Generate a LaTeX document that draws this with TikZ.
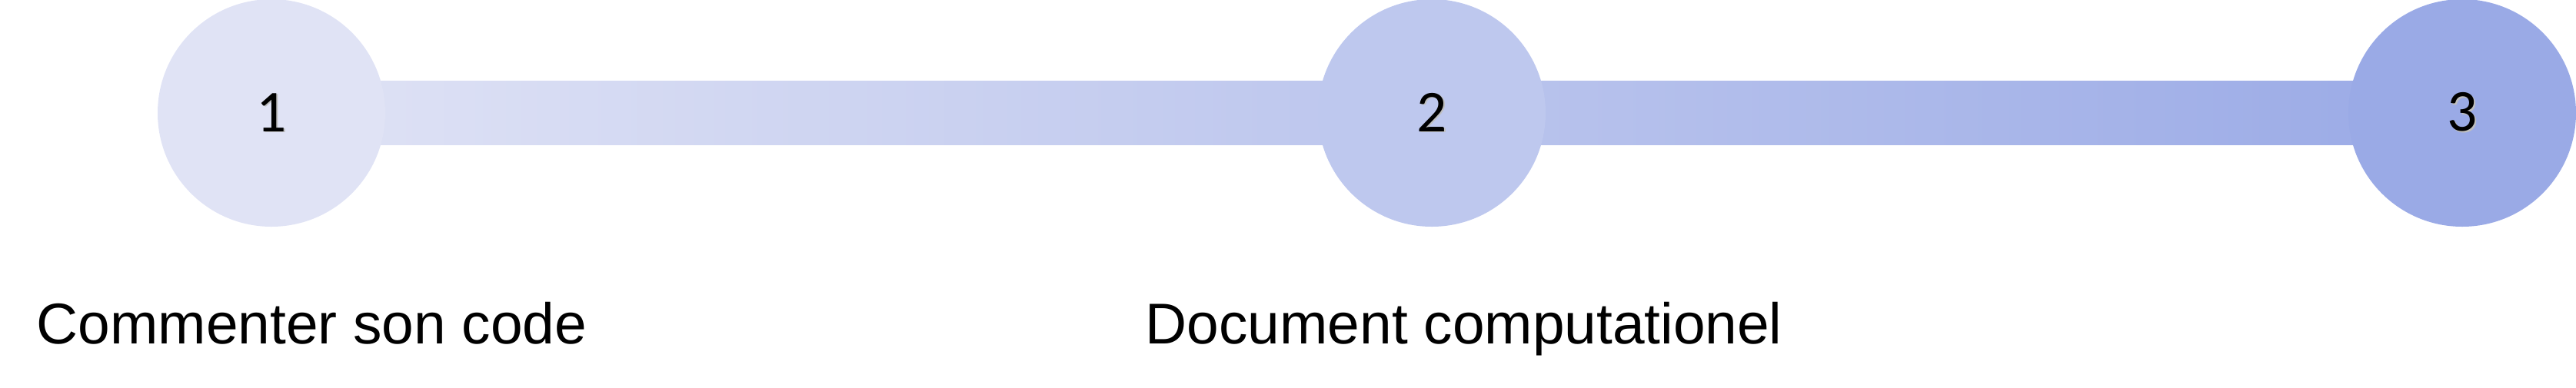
\documentclass[tikz,border=0pt]{standalone}
\usepackage{fontspec}
\setmainfont{Liberation Sans}
\newfontfamily\numfont{Carlito}
\usepackage{tikz}
\usetikzlibrary{backgrounds}

\definecolor{stepone}{RGB}{224,227,245}
\definecolor{steptwo}{RGB}{190,200,238}
\definecolor{stepthree}{RGB}{154,170,230}

% digit with a soft drop shadow
\newcommand{\stepnum}[1]{\rlap{\kern0.5pt\raisebox{-0.5pt}{\textcolor{black!25}{#1}}}#1}

\begin{document}
\begin{tikzpicture}[
    dot/.style={circle, draw=none, inner sep=0pt, minimum size=2.96cm, font=\numfont\fontsize{22}{24}\selectfont},
    caption/.style={anchor=base west, inner sep=0pt, font=\fontsize{21.3}{25}\selectfont}
]
\useasboundingbox (0,0) rectangle (33.5,5.04);
\node[dot, fill=stepone] (s1) at (3.53,3.57) {\stepnum{1}};
\node[dot, fill=steptwo] (s2) at (18.62,3.57) {\stepnum{2}};
\node[dot, fill=stepthree] (s3) at (32.02,3.57) {\stepnum{3}};

\node[caption] (c1) at (0.47,0.57) {Commenter son code};
\node[caption] (c2) at (14.89,0.57) {Document computationel};

% bar behind the steps
\begin{scope}[on background layer]
\shade[left color=stepone, right color=stepthree] ([yshift=4.15mm]s1.center) rectangle ([yshift=-4.15mm]s3.center);
\end{scope}
\end{tikzpicture}
\end{document}
